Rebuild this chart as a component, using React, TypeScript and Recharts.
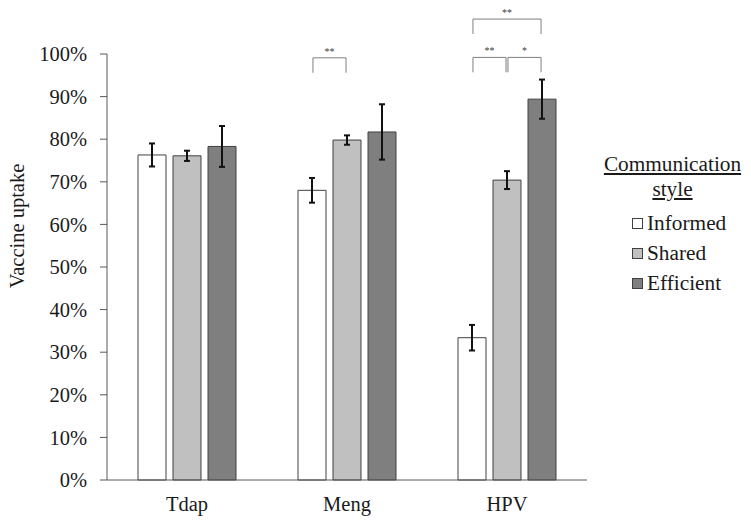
import { BarChart, Bar, XAxis, YAxis, ErrorBar, ReferenceLine } from 'recharts';

const CATEGORIES = ['Tdap', 'Meng', 'HPV'];
const INFORMED = [76.3, 68.0, 33.4];
const INFORMED_ERR = [2.7, 2.9, 3.0];
const SHARED = [76.1, 79.8, 70.4];
const SHARED_ERR = [1.2, 1.1, 2.1];
const EFFICIENT = [78.3, 81.7, 89.4];
const EFFICIENT_ERR = [4.8, 6.5, 4.6];
const Y_TICKS = [0, 10, 20, 30, 40, 50, 60, 70, 80, 90, 100];

// significance brackets: category index, from/to series index, top level (%), label
const BRACKET_CAT = [1, 2, 2, 2];
const BRACKET_FROM = [0, 0, 0, 1];
const BRACKET_TO = [1, 2, 1, 2];
const BRACKET_TOP = [99.1, 108.2, 99.2, 99.2];
const BRACKET_LABEL = ['**', '**', '**', '*'];

const SERIES = [
  { key: 'informed', name: 'Informed', fill: '#ffffff' },
  { key: 'shared', name: 'Shared', fill: '#c0c0c0' },
  { key: 'efficient', name: 'Efficient', fill: '#7f7f7f' },
];

const data = CATEGORIES.map((name, i) => ({
  name,
  idx: i,
  informed: INFORMED[i],
  informedErr: INFORMED_ERR[i],
  shared: SHARED[i],
  sharedErr: SHARED_ERR[i],
  efficient: EFFICIENT[i],
  efficientErr: EFFICIENT_ERR[i],
}));

const FONT = "'Liberation Serif', Tinos, 'Times New Roman', 'DejaVu Serif', serif";
const BAR_SIZE = 28;
const BAR_GAP = 7;
const BAND = 160;
const LEG = 3.5;
const INSET = 0.006;

// centre of a series' bar, in category units on the hidden numeric axis
const barCenter = (cat: number, s: number) => cat + 0.5 + (s - 1) * (BAR_SIZE + BAR_GAP) / BAND;

const YLabel = (props: any) => {
  const vb = props.viewBox || { x: 0, y: 54, width: 107, height: 426 };
  const x = vb.x + 17;
  const y = vb.y + vb.height / 2 - 41;
  return (
    <text x={x} y={y} transform={`rotate(-90, ${x}, ${y})`} textAnchor="middle" dominantBaseline="central"
      style={{ fontFamily: FONT }} fontSize={20.5} fill="#1a1a1a">
      Vaccine uptake
    </text>
  );
};

export default function App() {
  return (
    <div style={{ position: 'absolute', left: 0, top: 0, width: 751, height: 523, background: '#fff', fontFamily: FONT }}>
      <BarChart width={751} height={523} data={data} barSize={BAR_SIZE} barGap={BAR_GAP}
        margin={{ top: 54, right: 164, left: 0, bottom: 0 }} style={{ fontFamily: FONT }}>
        <XAxis dataKey="name" height={43} tickLine={false} tickSize={0} tickMargin={16}
          axisLine={{ stroke: '#595959' }}
          tick={{ fill: '#1a1a1a', fontSize: 20.5, style: { fontFamily: FONT } }} />
        <XAxis xAxisId="pos" dataKey="idx" type="number" domain={[0, 3]} allowDataOverflow hide />
        <YAxis domain={[0, 100]} ticks={Y_TICKS} width={107} tickSize={7} tickMargin={13}
          tickFormatter={(v) => `${v}%`} axisLine={{ stroke: '#595959' }} tickLine={{ stroke: '#595959' }}
          tick={{ fill: '#1a1a1a', fontSize: 20.5, style: { fontFamily: FONT } }}
          label={{ content: YLabel }} />
        {SERIES.map((s) => (
          <Bar key={s.key} dataKey={s.key} name={s.name} fill={s.fill} stroke="#404040" strokeWidth={1}
            isAnimationActive={false}>
            <ErrorBar dataKey={`${s.key}Err`} direction="y" width={3} stroke="#111" strokeWidth={2} />
          </Bar>
        ))}
        {BRACKET_CAT.map((cat, i) => {
          const x1 = barCenter(cat, BRACKET_FROM[i]) + INSET;
          const x2 = barCenter(cat, BRACKET_TO[i]) - INSET;
          const top = BRACKET_TOP[i];
          return [
            <ReferenceLine key={`t${i}`} xAxisId="pos" ifOverflow="visible" stroke="#7f7f7f" strokeWidth={1}
              segment={[{ x: x1, y: top }, { x: x2, y: top }]}
              label={{ value: BRACKET_LABEL[i], position: 'top', offset: 3, fontSize: 10, fill: '#404040' }} />,
            <ReferenceLine key={`l${i}`} xAxisId="pos" ifOverflow="visible" stroke="#7f7f7f" strokeWidth={1}
              segment={[{ x: x1, y: top }, { x: x1, y: top - LEG }]} />,
            <ReferenceLine key={`r${i}`} xAxisId="pos" ifOverflow="visible" stroke="#7f7f7f" strokeWidth={1}
              segment={[{ x: x2, y: top }, { x: x2, y: top - LEG }]} />,
          ];
        })}
      </BarChart>
      <div style={{ position: 'absolute', left: 595, top: 152, width: 155, fontSize: 21.3, color: '#1a1a1a' }}>
        <div style={{ textAlign: 'center', textDecoration: 'underline', lineHeight: '25px' }}>
          Communication<br />style
        </div>
        <div style={{ marginTop: 6, paddingLeft: 37 }}>
          {SERIES.map((s) => (
            <div key={s.key} style={{ display: 'flex', alignItems: 'center', height: 30 }}>
              <span style={{ display: 'inline-block', width: 9, height: 9, background: s.fill,
                border: '1px solid #404040', marginRight: 4 }} />
              <span>{s.name}</span>
            </div>
          ))}
        </div>
      </div>
    </div>
  );
}
